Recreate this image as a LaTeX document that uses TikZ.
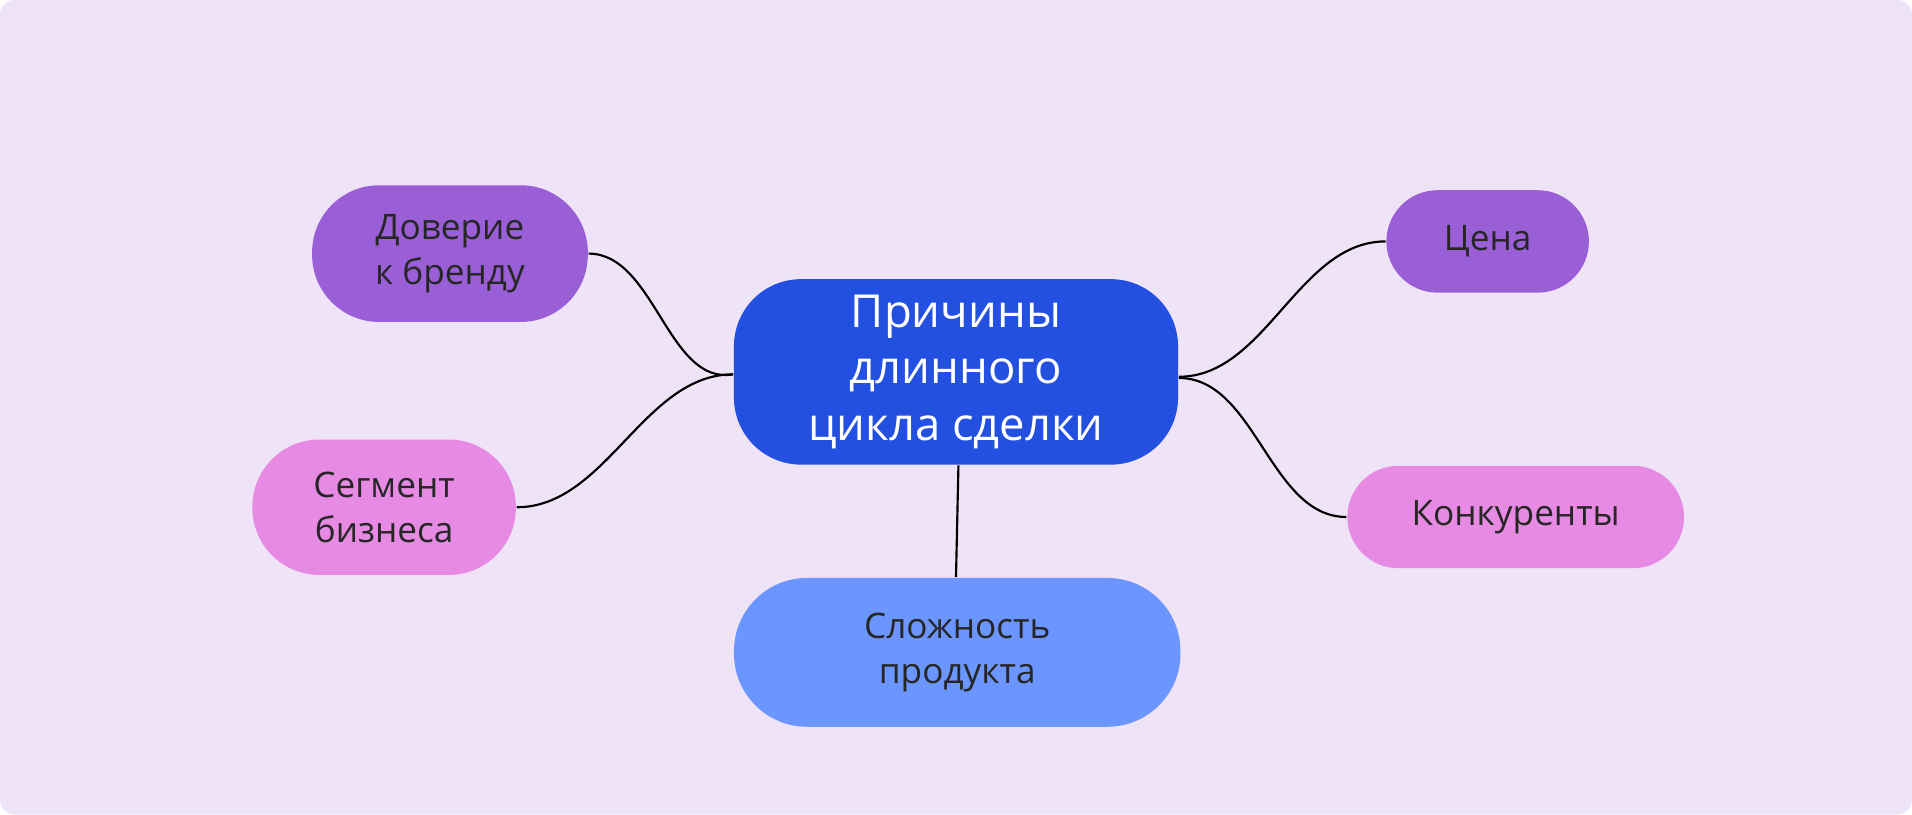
\documentclass[tikz,border=0pt]{standalone}
\usepackage{fontspec}
\setmainfont{Open Sans}
\begin{document}
\begin{tikzpicture}[x=0.01cm,y=-0.01cm,
  pill/.style={rounded corners=#1, inner sep=0pt, align=center, font=\fontsize{8.2pt}{10.5pt}\selectfont, text=black!85},
  link/.style={black, line width=0.5pt}]
\definecolor{bg}{HTML}{EFE3F8}
\definecolor{purp}{HTML}{9A5FD6}
\definecolor{pinkc}{HTML}{E68AE4}
\definecolor{bluec}{HTML}{2350E0}
\definecolor{lblue}{HTML}{6B95FF}
\fill[bg, rounded corners=0.12cm] (0,0) rectangle (1568,668);
\useasboundingbox (0,0) rectangle (1568,668);
\node[pill=0.55cm, fill=bluec, minimum width=3.64cm, minimum height=1.52cm, text=white, font=\fontsize{10.6pt}{13.2pt}\selectfont] (c) at (784,305) {Причины\\длинного\\цикла сделки};
\node[pill=0.55cm, fill=purp, minimum width=2.26cm, minimum height=1.12cm] (d) at (369,208) {Доверие\\к бренду};
\node[pill=0.42cm, fill=purp, minimum width=1.66cm, minimum height=0.84cm] (p) at (1220,198) {Цена};
\node[pill=0.55cm, fill=pinkc, minimum width=2.16cm, minimum height=1.11cm] (s) at (315,416) {Сегмент\\бизнеса};
\node[pill=0.42cm, fill=pinkc, minimum width=2.76cm, minimum height=0.84cm] (k) at (1243,424) {Конкуренты};
\node[pill=0.6cm, fill=lblue, minimum width=3.66cm, minimum height=1.22cm] (sl) at (785,535) {Сложность\\продукта};
\draw[link] (d.east) to[out=0,in=190,looseness=0.9] ([yshift=-0.02cm]c.west);
\draw[link] (s.east) to[out=0,in=180,looseness=0.9] ([yshift=-0.02cm]c.west);
\draw[link] (p.west) to[out=180,in=0,looseness=0.9] ([yshift=-0.04cm]c.east);
\draw[link] (k.west) to[out=180,in=0,looseness=0.9] ([yshift=-0.05cm]c.east);
\draw[link] ([xshift=0.02cm]c.south) -- (c.south |- sl.north);
\end{tikzpicture}
\end{document}
